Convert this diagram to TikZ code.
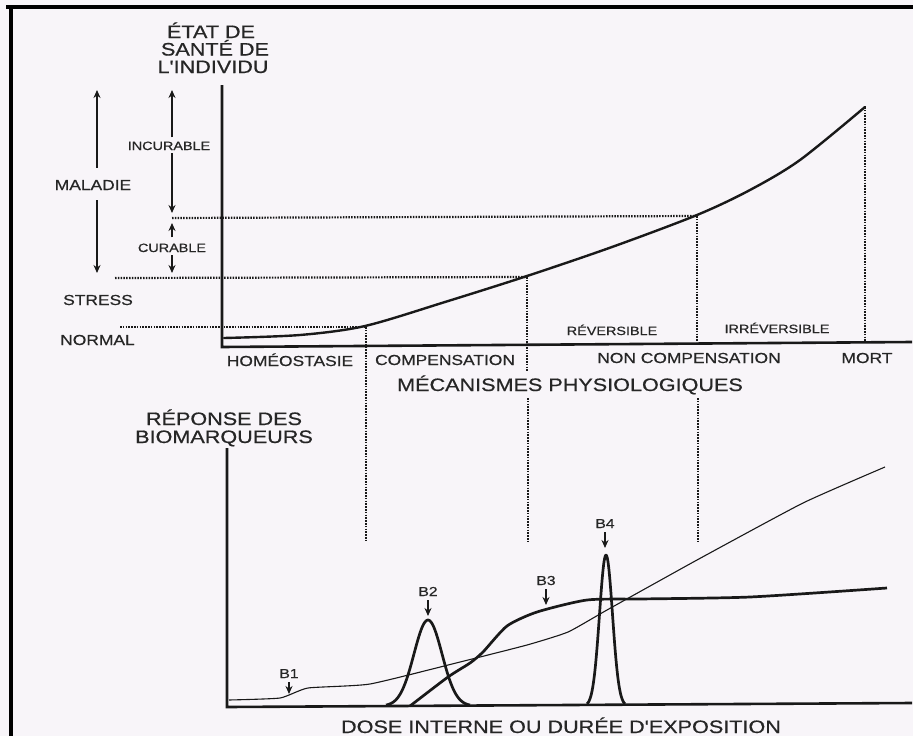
\documentclass[tikz,border=0pt]{standalone}
\usepackage{fontspec}
\setmainfont{Liberation Sans}
\newfontfamily\labfont[FakeStretch=1.2,FakeBold=0.6]{Liberation Sans}
\usetikzlibrary{arrows.meta}
\definecolor{bg}{RGB}{248,245,249}
\definecolor{ink}{RGB}{25,25,25}
\definecolor{txt}{RGB}{38,38,38}
\begin{document}
\begin{tikzpicture}[x=1pt,y=-1pt,
  big/.style={font=\labfont\fontsize{18}{20}\selectfont, text=txt, inner sep=0pt, anchor=base},
  med/.style={font=\labfont\fontsize{14.5}{16}\selectfont, text=txt, inner sep=0pt, anchor=base},
  small/.style={font=\labfont\fontsize{12}{14}\selectfont, text=txt, inner sep=0pt, anchor=base},
  blab/.style={font=\labfont\fontsize{13}{14}\selectfont, text=txt, inner sep=0pt, anchor=base},
  axisline/.style={draw=ink, line width=2.6pt},
  frameline/.style={draw=black, line width=3.2pt},
  dots/.style={draw=ink, line width=2.2pt, dash pattern=on 1.5pt off 1.3pt},
  curve/.style={draw=ink, line width=2.4pt, line join=round, line cap=round},
  thincurve/.style={draw=ink, line width=1.1pt, line join=round},
  thickcurve/.style={draw=ink, line width=2.7pt, line join=round},
  arr/.style={draw=ink, line width=1.3pt, -{Stealth[length=8pt,width=7pt]}},
]
\fill[bg] (0,0) rectangle (913,736);
\useasboundingbox (0,0) rectangle (913,736);
% frame
\draw[frameline] (6,7) -- (913,7);
\draw[frameline] (11,7) -- (11,736);

% ---------- upper graph ----------
\draw[axisline] (222,85) -- (222,347) -- (912,342);

% titles
\node[big] (etat1) at (211,38) {ÉTAT DE};
\node[big] (etat2) at (215,55.5) {SANTÉ DE};
\node[big] (etat3) at (213,73) {L'INDIVIDU};

% dotted guides
\draw[dots] (120,327) -- (365,327);
\draw[dots] (115,278) -- (527,277);
\draw[dots] (172,218) -- (697,216);
\draw[dots] (366,327) -- (366,542);
\draw[dots] (527,277) -- (527,372);
\draw[dots] (528,398) -- (528,542);
\draw[dots] (697,216) -- (697,342);
\draw[dots] (698,398) -- (698,542);
\draw[dots] (865,107) -- (865,342);

% health curve
\draw[curve] plot[smooth, tension=0.5] coordinates {(224,338) (300,335) (365,326) (445,302) (527,276) (612,247) (697,215) (750,190) (800,160) (865,107)};

% left labels
\node[med] (maladie) at (93,190) {MALADIE};
\node[med] (stress) at (98,305) {STRESS};
\node[med] (normal) at (97.5,345) {NORMAL};
\node[small] (incur) at (169,150) {INCURABLE};
\node[small] (cur) at (172,252) {CURABLE};

\coordinate (malU) at (97,90);
\coordinate (malD) at (97,273);
\coordinate (incU) at (172,90);
\coordinate (incD) at (172,213);
\coordinate (curU) at (172,223);
\coordinate (curD) at (172,273);
\draw[arr, shorten <=12pt] (maladie.north -| malU) -- (malU);
\draw[arr, shorten <=10pt] (maladie.south -| malD) -- (malD);
\draw[arr, shorten <=4pt] (incur.north -| incU) -- (incU);
\draw[arr, shorten <=3pt] (incur.south -| incD) -- (incD);
\draw[arr, shorten <=6pt] (cur.north -| curU) -- (curU);
\draw[arr, shorten <=3pt] (cur.south -| curD) -- (curD);

% axis labels
\node[med] (homeo) at (290,366) {HOMÉOSTASIE};
\node[med] (comp) at (445,365) {COMPENSATION};
\node[med] (noncomp) at (689,363) {NON COMPENSATION};
\node[med] (mort) at (867,363) {MORT};
\node[small] (rev) at (612,335) {RÉVERSIBLE};
\node[small] (irrev) at (777,333) {IRRÉVERSIBLE};
\node[big] (meca) at (570,391) {MÉCANISMES PHYSIOLOGIQUES};

% ---------- lower graph ----------
\node[big] (rep1) at (224,425) {RÉPONSE DES};
\node[big] (rep2) at (224,443) {BIOMARQUEURS};
\draw[axisline] (227,448) -- (227,707) -- (912,703);
\node[big] (dose) at (561,733) {DOSE INTERNE OU DURÉE D'EXPOSITION};

% B1 thin line
\draw[thincurve] plot[smooth, tension=0.3] coordinates {(229,700) (280,698) (308,688) (370,684) (460,662) (527,645) (568,632) (607,610) (697,560) (803,503) (885,467)};
% B2 gaussian
\draw[thickcurve] plot[domain=386:470, samples=70, smooth] (\x, {706-86*exp(-((\x-428)/14)^2/2)});
% B3 plateau curve
\draw[thickcurve] plot[smooth, tension=0.4] coordinates {(410,706) (448,677) (470,663) (483,652) (507,626) (537,612) (587,600) (640,599) (750,597) (887,588)};
% B4 narrow peak
\draw[thickcurve] plot[domain=587:625, samples=70, smooth] (\x, {706-151*exp(-((\x-606)/6.5)^2/2)});

% B labels
\node[blab] (b1) at (289,678) {B1};
\node[blab] (b2) at (428,596) {B2};
\node[blab] (b3) at (546,585) {B3};
\node[blab] (b4) at (605,528) {B4};
\coordinate (b1t) at (289,694);
\coordinate (b2t) at (428,616);
\coordinate (b3t) at (546,605);
\coordinate (b4t) at (605,548);
\draw[arr, shorten <=4pt] (b1.south) -- (b1t);
\draw[arr, shorten <=4pt] (b2.south) -- (b2t);
\draw[arr, shorten <=4pt] (b3.south) -- (b3t);
\draw[arr, shorten <=4pt] (b4.south) -- (b4t);
\end{tikzpicture}
\end{document}
